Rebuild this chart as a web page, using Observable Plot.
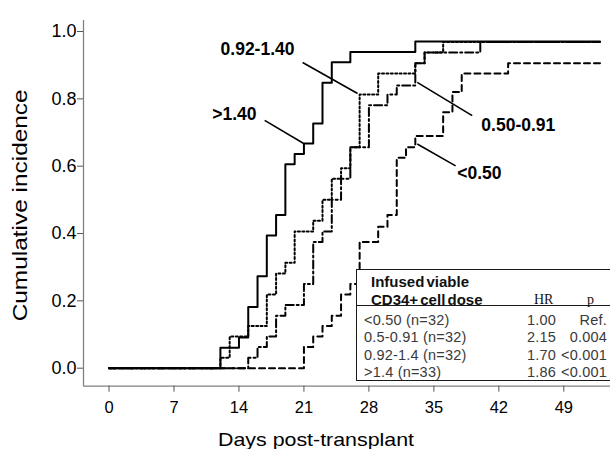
<!DOCTYPE html>
<html>
<head>
<meta charset="utf-8">
<script src="https://cdn.jsdelivr.net/npm/d3@7"></script>
<script src="https://cdn.jsdelivr.net/npm/@observablehq/plot@0.6"></script>
<style>
  html, body { margin: 0; padding: 0; background: #fff; }
  #wrap { position: relative; width: 610px; height: 449px; overflow: hidden; font-family: "Liberation Sans", Arial, sans-serif; }
  #legend { position: absolute; left: 356px; top: 269px; width: 270px; height: 112px; border: 1.6px solid #1a1a1a; background: #fff; box-sizing: border-box; }
  #legend .hdr { position: absolute; left: 14px; font-weight: bold; font-size: 15px; color: #111; word-spacing: -2px; white-space: nowrap; }
  #legend .colh { position: absolute; font-family: "Liberation Serif", "Times New Roman", serif; font-size: 14px; color: #111; }
  #legend .div { position: absolute; left: 0; right: 0; top: 35px; border-top: 1.6px solid #1a1a1a; }
  #legend .cell { position: absolute; font-size: 14.5px; letter-spacing: 0.2px; color: #3a3a3a; white-space: nowrap; line-height: 16px; }
</style>
</head>
<body>
<div id="wrap"></div>
<script>
// ---- data ----
const xTicks = [0, 7, 14, 21, 28, 35, 42, 49];
const yTicks = [0, 0.2, 0.4, 0.6, 0.8, 1.0];

const seriesLabels = [">1.40", "0.92-1.40", "0.50-0.91", "<0.50"];

const daysOver140 = [0, 12, 14, 15, 16, 17, 18, 19, 20, 21, 22, 23, 24, 26, 33, 52.9];
const cumOver140  = [0, 0.061, 0.091, 0.182, 0.273, 0.394, 0.455, 0.606, 0.636, 0.667, 0.727, 0.848, 0.909, 0.939, 0.970, 0.970];

const days092to140 = [0, 12, 13, 15, 17, 18, 19, 20, 22, 23, 24, 25, 26, 27, 29, 33, 34, 36, 52.9];
const cum092to140  = [0, 0.031, 0.094, 0.125, 0.219, 0.281, 0.313, 0.406, 0.438, 0.500, 0.563, 0.594, 0.656, 0.813, 0.875, 0.906, 0.938, 0.969, 0.969];

const days050to091 = [0, 15, 16, 17, 18, 19, 21, 22, 23, 24, 25, 26, 28, 30, 31, 33, 34, 40, 52.9];
const cum050to091  = [0, 0.031, 0.063, 0.094, 0.156, 0.188, 0.250, 0.375, 0.406, 0.500, 0.563, 0.656, 0.781, 0.813, 0.840, 0.906, 0.938, 0.969, 0.969];

const daysUnder050 = [0, 21, 22, 23, 24, 25, 26, 27, 29, 30, 31, 32, 33, 36, 37, 38, 43, 52.9];
const cumUnder050  = [0, 0.063, 0.094, 0.125, 0.156, 0.219, 0.250, 0.375, 0.420, 0.455, 0.625, 0.656, 0.690, 0.760, 0.820, 0.875, 0.906, 0.906];

const legendRows    = ["<0.50 (n=32)", "0.5-0.91 (n=32)", "0.92-1.4 (n=32)", ">1.4 (n=33)"];
const hazardRatios  = ["1.00", "2.15", "1.70", "1.86"];
const pValues       = ["Ref.", "0.004", "<0.001", "<0.001"];

// curve label annotations (text position and leader line, in data units)
const annotations = [
  {text: "0.92-1.40", tx: 16.0, ty: 0.946, x1: 20.86, y1: 0.908, x2: 26.78, y2: 0.816},
  {text: ">1.40",     tx: 13.5, ty: 0.753, x1: 16.77, y1: 0.736, x2: 20.93, y2: 0.668},
  {text: "0.50-0.91", tx: 44.1, ty: 0.721, x1: 33.21, y1: 0.849, x2: 39.13, y2: 0.750},
  {text: "<0.50",     tx: 39.9, ty: 0.580, x1: 33.21, y1: 0.666, x2: 37.34, y2: 0.601}
];

// ---- build table ----
const seriesDays = [daysOver140, days092to140, days050to091, daysUnder050];
const seriesCum  = [cumOver140, cum092to140, cum050to091, cumUnder050];
const rows = seriesLabels.flatMap((s, i) => seriesDays[i].map((d, j) => ({series: s, day: d, cum: seriesCum[i][j]})));

const dashes = {">1.40": null, "0.92-1.40": "2,2.4", "0.50-0.91": "8,3,2,3", "<0.50": "6,4"};
const drawOrder = ["<0.50", "0.50-0.91", "0.92-1.40", ">1.40"];

const xDomain = [-2.75, 54.03];
const yDomain = [-0.0535, 1.0327];

const lineMarks = drawOrder.map(s => Plot.line(rows.filter(r => r.series === s), {
  x: "day", y: "cum", curve: "step-after", stroke: "black", strokeWidth: 2,
  strokeDasharray: dashes[s] || undefined
}));

const chart = Plot.plot({
  width: 610,
  height: 449,
  marginLeft: 83,
  marginRight: 0,
  marginTop: 20,
  marginBottom: 63.3,
  style: {fontFamily: "'Liberation Sans', Arial, sans-serif", background: "white", color: "black"},
  x: {domain: xDomain},
  y: {domain: yDomain},
  marks: [
    Plot.ruleX([xDomain[0]], {stroke: "#808080", strokeWidth: 1.3}),
    Plot.ruleY([yDomain[0]], {stroke: "#808080", strokeWidth: 1.3}),
    Plot.axisX({ticks: xTicks, tickSize: 6, tickPadding: 9, fontSize: 16.5, label: null, stroke: "#555"}),
    Plot.axisY({ticks: yTicks, tickFormat: d3.format(".1f"), tickSize: 6, tickPadding: 1, fontSize: 18, label: null, stroke: "#555"}),
    Plot.text(["Days post-transplant"], {frameAnchor: "bottom", dx: -31, dy: 54, fontSize: 19, lineAnchor: "middle", textAnchor: "middle", className: "xtitle"}),
    Plot.text(["Cumulative incidence"], {frameAnchor: "left", rotate: -90, dx: -63, dy: 2, fontSize: 19.5, lineAnchor: "middle", textAnchor: "middle", className: "ytitle"}),
    ...lineMarks,
    Plot.link(annotations, {x1: "x1", y1: "y1", x2: "x2", y2: "y2", stroke: "black", strokeWidth: 1.6}),
    Plot.text(annotations, {x: "tx", y: "ty", text: "text", fontWeight: "bold", fontSize: 17.5, lineAnchor: "middle"})
  ]
});

// stretch axis titles to the reference's lengths
const xt = chart.querySelector(".xtitle text");
if (xt) { xt.setAttribute("textLength", 196); xt.setAttribute("lengthAdjust", "spacingAndGlyphs"); }
const yt = chart.querySelector(".ytitle text");
if (yt) { yt.setAttribute("textLength", 232); yt.setAttribute("lengthAdjust", "spacingAndGlyphs"); }

const wrap = document.getElementById("wrap");
wrap.appendChild(chart);

// ---- legend table (overlaid inside plot area, lower right) ----
const esc = s => s.replace(/</g, "&lt;").replace(/>/g, "&gt;");
const legend = document.createElement("div");
legend.id = "legend";
let html = "";
html += `<div class="hdr" style="top:3px">Infused viable</div>`;
html += `<div class="hdr" style="top:21px">CD34+ cell dose</div>`;
html += `<div class="colh" style="left:177px;top:22px">HR</div>`;
html += `<div class="colh" style="left:230px;top:22px">p</div>`;
html += `<div class="div"></div>`;
legendRows.forEach((r, i) => {
  const top = 42 + i * 17.4;
  html += `<div class="cell" style="left:7px;top:${top}px">${esc(r)}</div>`;
  html += `<div class="cell" style="right:${270 - 201}px;top:${top}px">${esc(hazardRatios[i])}</div>`;
  html += `<div class="cell" style="right:${270 - 252}px;top:${top}px">${esc(pValues[i])}</div>`;
});
legend.innerHTML = html;
wrap.appendChild(legend);
</script>
</body>
</html>
